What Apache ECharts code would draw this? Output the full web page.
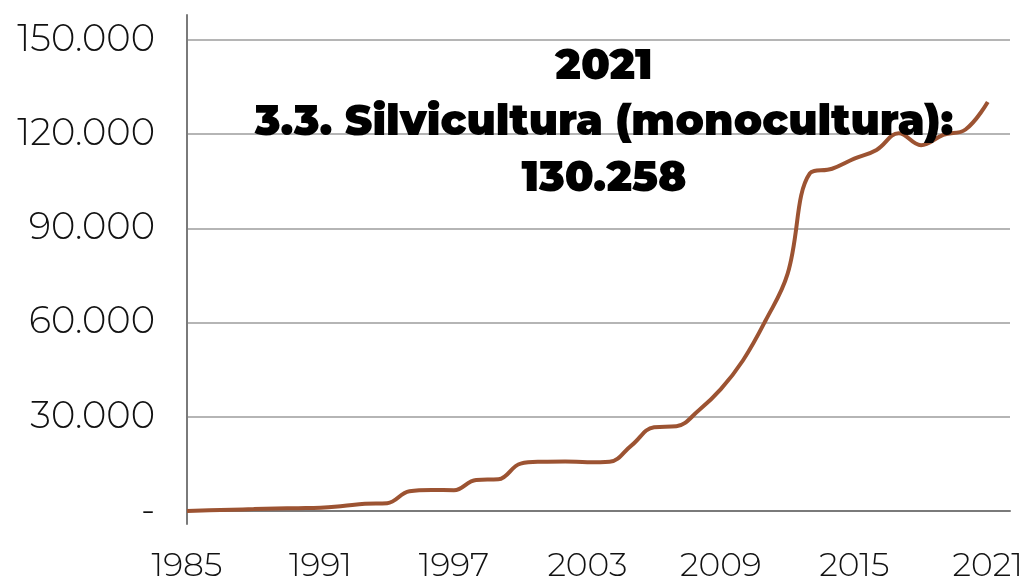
<!DOCTYPE html>
<html>
<head>
<meta charset="utf-8">
<script src="https://cdn.jsdelivr.net/npm/echarts@6/dist/echarts.min.js"></script>
<style>
html,body{margin:0;padding:0;background:#fff;}
#chart{width:1020px;height:580px;}
</style>
</head>
<body>
<div id="chart"></div>
<script>
const years = ['1985','1986','1987','1988','1989','1990','1991','1992','1993','1994','1995','1996','1997','1998','1999','2000','2001','2002','2003','2004','2005','2006','2007','2008','2009','2010','2011','2012','2013','2014','2015','2016','2017','2018','2019','2020','2021','2022'];
const silvicultura = [0,200,400,600,800,900,1050,1600,2300,2500,6300,6700,6600,9900,10100,15100,15700,15800,15500,15700,21000,26700,27000,32000,38800,48000,60500,75500,107500,109000,112200,115000,120300,116500,119800,121500,130258,null];
const yTicks = [0,30000,60000,90000,120000,150000];
const titleLines = ['2021','3.3. Silvicultura (monocultura):','130.258'];

const fmt = v => v === 0 ? '-' : v.toLocaleString('de-DE');
const labelFont = 'Montserrat, Lato, "Open Sans", sans-serif';

const chart = echarts.init(document.getElementById('chart'), null, {renderer:'canvas'});
chart.setOption({
  animation:false,
  backgroundColor:'#ffffff',
  grid:[
    {left:187,right:10,top:40,bottom:69,containLabel:false,outerBoundsMode:'none'},
    {left:187,right:10,top:15,bottom:56,containLabel:false,outerBoundsMode:'none'}
  ],
  xAxis:[
    {type:'category',gridIndex:0,data:years,boundaryGap:false,
     axisLine:{show:true,onZero:true,lineStyle:{color:'#7a7a7a',width:2}},
     axisTick:{show:false},
     axisLabel:{interval:5,margin:39,color:'#111',fontSize:33,fontWeight:300,fontFamily:labelFont,
       formatter:(v,i)=> (i===years.length-1 ? '' : v)},
     splitLine:{show:false}},
    {type:'value',gridIndex:1,show:false}
  ],
  yAxis:[
    {type:'value',gridIndex:0,min:yTicks[0],max:yTicks[yTicks.length-1],interval:30000,
     axisLine:{show:false},axisTick:{show:false},
     axisLabel:{margin:32,color:'#111',fontSize:37,fontWeight:300,fontFamily:labelFont,formatter:fmt,
       padding:[6,0,0,0]},
     splitLine:{show:true,lineStyle:{color:'#b5b5b5',width:2}}},
    {type:'value',gridIndex:1,min:0,max:1,
     axisLine:{show:true,lineStyle:{color:'#7a7a7a',width:2}},
     axisTick:{show:false},axisLabel:{show:false},splitLine:{show:false}}
  ],
  series:[
    {type:'line',xAxisIndex:0,yAxisIndex:0,data:silvicultura,smooth:0.4,showSymbol:false,
     lineStyle:{color:'#9C5332',width:4},itemStyle:{color:'#9C5332'},z:3}
  ],
  graphic:[
    {type:'text',x:604,y:39,z:10,
     style:{text:titleLines.join('\n'),align:'center',verticalAlign:'top',
       font:'900 42px Montserrat, Lato, "Noto Sans", sans-serif',lineHeight:56,fill:'#000'}}
  ]
});
</script>
</body>
</html>
